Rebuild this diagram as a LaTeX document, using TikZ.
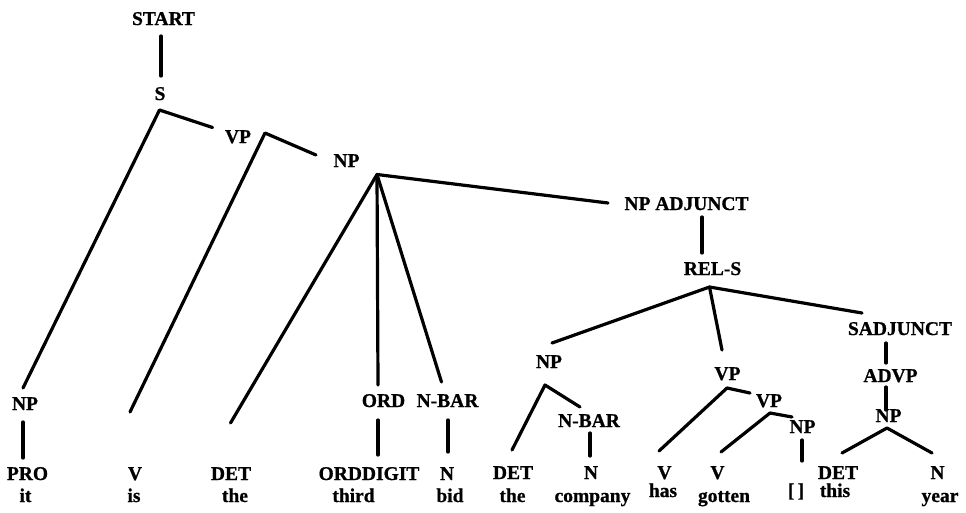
\documentclass[tikz,border=0pt]{standalone}
\usepackage{fontspec}
\setmainfont{Liberation Serif}[BoldFeatures={FakeBold=0.8}]
\begin{document}
\begin{tikzpicture}[x=1pt,y=-1pt,
  lbl/.style={anchor=base,inner sep=0pt,font=\fontsize{19.5}{20}\selectfont\bfseries},
  edge/.style={line width=3.2pt,line cap=round,line join=round}]
\useasboundingbox (0,0) rectangle (966,512);

% ---------- category labels ----------
\node[lbl] (start)  at (163.5,25)  {START};
\node[lbl] (s)      at (160,100)   {S};
\node[lbl] (vp)     at (238,143)   {VP};
\node[lbl] (np)     at (346.5,167) {NP};
\node[lbl] (npadj)  at (686.5,210) {NP ADJUNCT};
\node[lbl] (rels)   at (712.5,275) {REL-S};
\node[lbl] (sadj)   at (900,335)   {SADJUNCT};
\node[lbl] (advp)   at (890.5,382) {ADVP};
\node[lbl] (npt)    at (888.5,422) {NP};
\node[lbl] (npr)    at (549,368)   {NP};
\node[lbl] (nbarr)  at (589,427)   {N-BAR};
\node[lbl] (vpr)    at (727.5,380) {VP};
\node[lbl] (vpi)    at (769,407)   {VP};
\node[lbl] (npo)    at (802.5,433) {NP};
\node[lbl] (npl)    at (25,410)    {NP};
\node[lbl] (ord)    at (383.5,407) {ORD};
\node[lbl] (nbarl)  at (447.5,407) {N-BAR};

% ---------- preterminals ----------
\node[lbl] (pro)    at (27.5,480)  {PRO};
\node[lbl] (v1)     at (135,480)   {V};
\node[lbl] (det1)   at (231,480)   {DET};
\node[lbl] (orddig) at (369,480)   {ORDDIGIT};
\node[lbl] (n1)     at (447,480)   {N};
\node[lbl] (det2)   at (513,479)   {DET};
\node[lbl] (n2)     at (591,479)   {N};
\node[lbl] (v2)     at (664.5,479) {V};
\node[lbl] (v3)     at (717.5,479) {V};
\node[lbl] (det3)   at (838,479)   {DET};
\node[lbl] (n3)     at (937.5,479) {N};

% ---------- words ----------
\node[lbl] (w-it)      at (25.5,502) {it};
\node[lbl] (w-is)      at (134,502)  {is};
\node[lbl] (w-the)     at (235,502)  {the};
\node[lbl] (w-third)   at (353.5,502) {third};
\node[lbl] (w-bid)     at (450,502)  {bid};
\node[lbl] (w-the2)    at (512.5,502) {the};
\node[lbl] (w-company) at (592.5,502) {company};
\node[lbl] (w-has)     at (663,497)  {has};
\node[lbl] (w-gotten)  at (724,502)  {gotten};
\node[lbl] (w-gap)     at (796,497)  {[\,]};
\node[lbl] (w-this)    at (835,497)  {this};
\node[lbl] (w-year)    at (940,502)  {year};

% ---------- branch points ----------
\coordinate (start-b) at (161,36);    \coordinate (s-t)     at (161,76);
\coordinate (s-b)     at (159.5,110);
\coordinate (vp-t)    at (212.5,127.5); \coordinate (npl-t)  at (23,388);
\coordinate (vp-b)    at (265,133);
\coordinate (np-t)    at (316,155);   \coordinate (v1-t)    at (130,412);
\coordinate (np-b)    at (377,174.5);
\coordinate (npadj-t) at (608,203);   \coordinate (ord-t)   at (378,385);
\coordinate (nbarl-t) at (441.5,382); \coordinate (det1-t)  at (230.5,423);
\coordinate (npl-b)   at (23,422);    \coordinate (pro-t)   at (23,458);
\coordinate (ord-b)   at (378,420);   \coordinate (orddig-t) at (378,455);
\coordinate (nbarl-b) at (448,420);   \coordinate (n1-t)    at (448,452);
\coordinate (npadj-b) at (702,217);   \coordinate (rels-t)  at (702,253);
\coordinate (rels-b)  at (709.5,287);
\coordinate (npr-t)   at (552,343);   \coordinate (vpr-t)   at (722,350);
\coordinate (sadj-t)  at (862,313);
\coordinate (sadj-b)  at (886,343);   \coordinate (advp-t)  at (886,363);
\coordinate (advp-b)  at (886,387);   \coordinate (npt-t)   at (886,410);
\coordinate (npt-b)   at (887,428);
\coordinate (det3-t)  at (842,453);   \coordinate (n3-t)    at (932,453);
\coordinate (npr-b)   at (545,385);
\coordinate (det2-t)  at (512,450);   \coordinate (nbarr-t) at (580,407);
\coordinate (nbarr-b) at (590,433);   \coordinate (n2-t)    at (590,456);
\coordinate (vpr-b)   at (727,388);
\coordinate (v2-t)    at (659,451);   \coordinate (vpi-t)   at (750,393);
\coordinate (vpi-b)   at (770,413);
\coordinate (v3-t)    at (721,452);   \coordinate (npo-t)   at (792,417);
\coordinate (npo-b)   at (802,440);   \coordinate (gap-t)   at (802,461);

% ---------- branches ----------
\draw[edge] (start-b) -- (s-t);
\draw[edge] (vp-t) -- (s-b) -- (npl-t);
\draw[edge] (np-t) -- (vp-b) -- (v1-t);
\draw[edge] (npadj-t) -- (np-b) -- (det1-t);
\draw[edge] (np-b) -- (ord-t);
\draw[edge] (np-b) -- (nbarl-t);
\draw[edge] (npl-b) -- (pro-t);
\draw[edge] (ord-b) -- (orddig-t);
\draw[edge] (nbarl-b) -- (n1-t);
\draw[edge] (npadj-b) -- (rels-t);
\draw[edge] (npr-t) -- (rels-b) -- (sadj-t);
\draw[edge] (rels-b) -- (vpr-t);
\draw[edge] (sadj-b) -- (advp-t);
\draw[edge] (advp-b) -- (npt-t);
\draw[edge] (det3-t) -- (npt-b) -- (n3-t);
\draw[edge] (det2-t) -- (npr-b) -- (nbarr-t);
\draw[edge] (nbarr-b) -- (n2-t);
\draw[edge] (v2-t) -- (vpr-b) -- (vpi-t);
\draw[edge] (v3-t) -- (vpi-b) -- (npo-t);
\draw[edge] (npo-b) -- (gap-t);
\end{tikzpicture}
\end{document}
